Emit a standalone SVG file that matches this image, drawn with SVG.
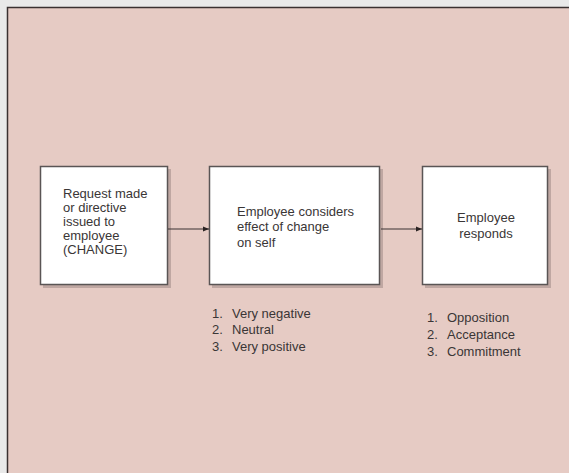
<svg xmlns="http://www.w3.org/2000/svg" width="569" height="473" viewBox="0 0 569 473">
<style>
  .t { font-family: "Liberation Sans", Arial, sans-serif; font-size: 13px; fill: #3a3636; }
  .box { fill: #ffffff; stroke: #5a5555; stroke-width: 1.5; }
  .shadow { fill: #9e8a86; opacity: 0.55; }
  .conn { stroke: #3a3333; stroke-width: 1.2; fill: none; }
</style>
<defs>
  <marker id="arr" viewBox="0 0 10 10" refX="10" refY="5" markerWidth="6" markerHeight="6" markerUnits="userSpaceOnUse" orient="auto">
    <path d="M0,1 L10,5 L0,9 z" fill="#2a2323"/>
  </marker>
</defs>
<rect x="0" y="0" width="569" height="473" fill="#e9e9e9"/>
<rect x="8" y="8" width="561" height="465" fill="#e6cbc4"/>
<path d="M7.5,473 V7.5 H569" stroke="#3a3030" stroke-width="1.5" fill="none"/>

<g id="node1">
  <rect class="shadow" x="43" y="169" width="128" height="119"/>
  <rect class="box" x="40.5" y="166.5" width="127" height="118"/>
  <text class="t" x="63" y="198">Request made</text>
  <text class="t" x="63" y="212">or directive</text>
  <text class="t" x="63" y="226">issued to</text>
  <text class="t" x="63" y="240">employee</text>
  <text class="t" x="63" y="254">(CHANGE)</text>
</g>

<g id="node2">
  <rect class="shadow" x="212" y="169" width="171" height="119"/>
  <rect class="box" x="209.5" y="166.5" width="170" height="118"/>
  <text class="t" x="237" y="216">Employee considers</text>
  <text class="t" x="237" y="231">effect of change</text>
  <text class="t" x="237" y="247">on self</text>
</g>

<g id="node3">
  <rect class="shadow" x="425" y="169" width="126" height="119"/>
  <rect class="box" x="422.5" y="166.5" width="125" height="118"/>
  <text class="t" x="486" y="222" text-anchor="middle">Employee</text>
  <text class="t" x="486" y="238" text-anchor="middle">responds</text>
</g>

<g id="list1">
  <text class="t" x="212" y="318">1.</text><text class="t" x="232" y="318">Very negative</text>
  <text class="t" x="212" y="334">2.</text><text class="t" x="232" y="334">Neutral</text>
  <text class="t" x="212" y="351">3.</text><text class="t" x="232" y="351">Very positive</text>
</g>

<g id="list2">
  <text class="t" x="427" y="322">1.</text><text class="t" x="447" y="322">Opposition</text>
  <text class="t" x="427" y="339">2.</text><text class="t" x="447" y="339">Acceptance</text>
  <text class="t" x="427" y="356">3.</text><text class="t" x="447" y="356">Commitment</text>
</g>

<g id="connectors">
  <line class="conn" x1="168" y1="229" x2="209" y2="229" marker-end="url(#arr)"/>
  <line class="conn" x1="381" y1="229" x2="422" y2="229" marker-end="url(#arr)"/>
</g>
</svg>
